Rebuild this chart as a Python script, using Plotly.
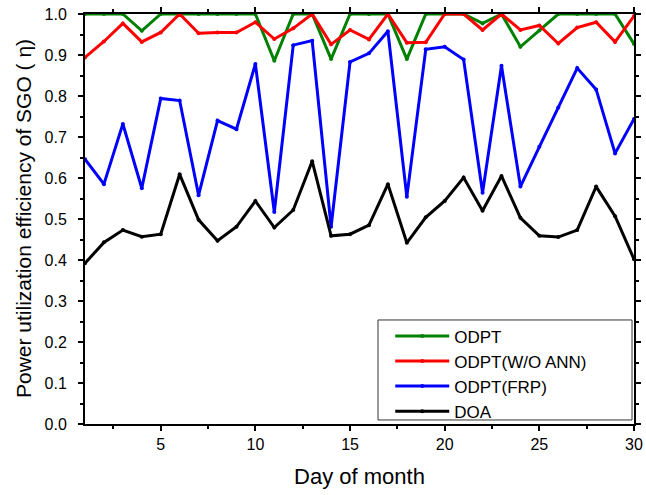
import plotly.graph_objects as go

days = list(range(1, 31))

odpt = [1.0, 1.0, 1.0, 0.959, 1.0, 1.0, 1.0, 1.0, 1.0, 1.0,
        0.886, 1.0, 1.0, 0.89, 1.0, 1.0, 1.0, 0.89, 1.0, 1.0,
        1.0, 0.977, 1.0, 0.92, 0.96, 1.0, 1.0, 1.0, 1.0, 0.927]

odpt_wo_ann = [0.894, 0.933, 0.977, 0.932, 0.955, 1.0, 0.953, 0.955, 0.955, 0.98,
               0.939, 0.965, 1.0, 0.926, 0.961, 0.938, 1.0, 0.930, 0.931, 1.0,
               1.0, 0.961, 1.0, 0.961, 0.972, 0.928, 0.967, 0.980, 0.932, 0.995]

odpt_frp = [0.646, 0.585, 0.732, 0.575, 0.794, 0.789, 0.558, 0.740, 0.719, 0.878,
            0.517, 0.924, 0.935, 0.481, 0.883, 0.904, 0.958, 0.554, 0.914, 0.920,
            0.889, 0.564, 0.874, 0.579, 0.676, 0.772, 0.868, 0.816, 0.660, 0.744]

doa = [0.392, 0.443, 0.473, 0.457, 0.463, 0.609, 0.498, 0.447, 0.481, 0.544,
       0.479, 0.522, 0.641, 0.459, 0.463, 0.485, 0.585, 0.442, 0.504, 0.544,
       0.601, 0.520, 0.605, 0.503, 0.459, 0.456, 0.473, 0.579, 0.507, 0.402]

series = [
    ("ODPT", odpt, "#008000"),
    ("ODPT(W/O ANN)", odpt_wo_ann, "#ff0000"),
    ("ODPT(FRP)", odpt_frp, "#0000ff"),
    ("DOA", doa, "#000000"),
]

x_ticks = [5, 10, 15, 20, 25, 30]
x_minor = [2.5, 7.5, 12.5, 17.5, 22.5, 27.5]
y_ticks = [round(i * 0.1, 1) for i in range(11)]
y_tick_text = [f"{v:.1f}" for v in y_ticks]
y_minor = [round(0.05 + 0.1 * i, 2) for i in range(10)]

x_title = "Day of month"
y_title = "Power utilization efficiency of SGO ( η)"

fig = go.Figure()
for name, vals, color in series:
    fig.add_trace(go.Scatter(
        x=days, y=vals, name=name, mode="lines+markers",
        line=dict(color=color, width=3),
        marker=dict(color=color, size=4),
        cliponaxis=False,
    ))

font_family = "Liberation Sans, Arial, sans-serif"
fig.update_layout(
    width=646, height=495,
    margin=dict(l=85, r=12, t=14, b=71),
    plot_bgcolor="white", paper_bgcolor="white",
    font=dict(family=font_family, color="black", size=16),
    showlegend=True,
    legend=dict(
        x=0.556, y=-0.013, xanchor="left", yanchor="bottom",
        bgcolor="rgba(0,0,0,0)", borderwidth=0,
        font=dict(size=17, family=font_family),
        tracegroupgap=0, itemwidth=54,
    ),
    shapes=[dict(
        type="rect", xref="paper", yref="paper",
        x0=0.5337, x1=0.9964, y0=0.0098, y1=0.2537,
        line=dict(color="#333333", width=1), fillcolor="white", layer="below",
    )],
    annotations=[dict(
        text=y_title, xref="paper", yref="paper",
        x=-0.1129, y=0.5, xanchor="center", yanchor="middle",
        textangle=-90, showarrow=False, font=dict(size=21),
    )],
)
fig.update_xaxes(
    range=[1, 30], tickvals=x_ticks, ticktext=[str(v) for v in x_ticks],
    showgrid=False, zeroline=False, automargin=False,
    showline=True, linecolor="black", linewidth=2, mirror="allticks",
    ticks="outside", ticklen=5, tickwidth=1.5, tickcolor="black",
    minor=dict(tickvals=x_minor, ticks="outside", ticklen=3, tickwidth=1.5, tickcolor="black"),
    title=dict(text=x_title, font=dict(size=22), standoff=16),
    tickfont=dict(size=16),
)
fig.update_yaxes(
    range=[0, 1], tickvals=y_ticks, ticktext=y_tick_text,
    showgrid=False, zeroline=False, automargin=False,
    showline=True, linecolor="black", linewidth=2, mirror="allticks",
    ticks="outside", ticklen=5, tickwidth=1.5, tickcolor="black",
    minor=dict(tickvals=y_minor, ticks="outside", ticklen=3, tickwidth=1.5, tickcolor="black"),
    ticklabelstandoff=8,
    tickfont=dict(size=16),
)

fig.write_html("out.html")
